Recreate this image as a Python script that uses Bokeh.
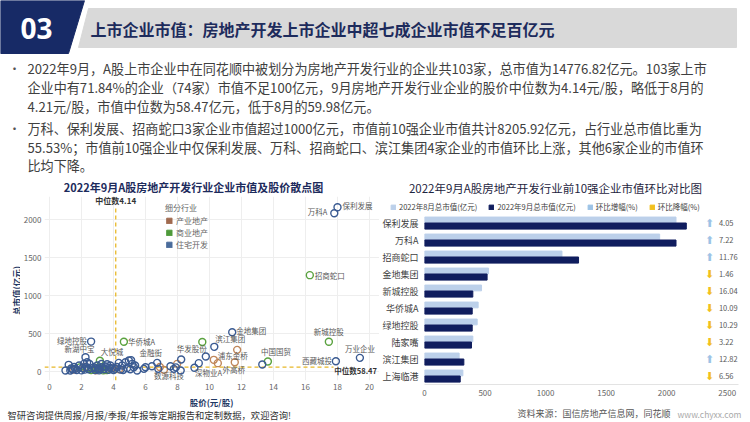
import math
import numpy as np
from bokeh.plotting import figure
from bokeh.layouts import column, row
from bokeh.models import (ColumnDataSource, Range1d, FactorRange, Label, Legend, LegendItem,
                          FixedTicker)
from bokeh.transform import dodge
from bokeh.core.properties import value
from bokeh.embed import file_html
from bokeh.resources import INLINE

FONT = "Noto Sans CJK SC"
NAN = float("nan")

# ------------------------------------------------------------------ texts
header_no = "03"
header_title = "上市企业市值：房地产开发上市企业中超七成企业市值不足百亿元"
bullet_lines = [
    "2022年9月，A股上市企业中在同花顺中被划分为房地产开发行业的企业共103家，总市值为14776.82亿元。103家上市",
    "企业中有71.84%的企业（74家）市值不足100亿元，9月房地产开发行业企业的股价中位数为4.14元/股，略低于8月的",
    "4.21元/股，市值中位数为58.47亿元，低于8月的59.98亿元。",
    "万科、保利发展、招商蛇口3家企业市值超过1000亿元，市值前10强企业市值共计8205.92亿元，占行业总市值比重为",
    "55.53%；市值前10强企业中仅保利发展、万科、招商蛇口、滨江集团4家企业的市值环比上涨，其他6家企业的市值环",
    "比均下降。",
]
scatter_title = "2022年9月A股房地产开发行业企业市值及股价散点图"
bar_title = "2022年9月A股房地产开发行业前10强企业市值环比对比图"
x_title = "股价(元/股)"
y_title = "总市值(亿元)"
footer_left = "智研咨询提供周报/月报/季报/年报等定期报告和定制数据，欢迎咨询!"
footer_src = "资料来源：国信房地产信息网，同花顺"
footer_site = "www.chyxx.com"

# ------------------------------------------------------------------ scatter data
seg_names = ["产业地产", "商业地产", "住宅开发"]

# 住宅开发
res_price = [18.0, 17.8, 11.42, 10.3, 9.77, 9.06, 2.6, 2.25, 4.96, 17.9, 19.4,
             1.0, 1.2, 1.3, 1.45, 1.6, 1.7, 1.85, 2.0, 2.05, 2.15, 2.3, 2.35, 2.45, 2.5,
             2.65, 2.77, 2.85, 2.98, 3.05, 3.1, 3.3, 3.4, 3.5, 3.6, 3.7, 3.8, 3.9, 4.1,
             4.2, 4.33, 4.45, 4.54, 4.75, 4.85, 5.05, 5.17, 5.27, 5.35, 5.48, 5.9, 6.0,
             6.4, 6.73, 6.8, 7.56, 7.77, 8.2, 8.23, 9.33, 13.3, 1.35, 2.2, 3.25, 4.0,
             5.1, 1.55, 2.9, 3.15, 3.75, 4.6, 7.9]
res_cap = [2162, 2083, 517, 325, 197, 49, 394, 188, 145, 136, 180,
           13, 88, 13, 30, 35, 20, 79, 15, 45, 101, 60, 123, 30, 100,
           45, 57, 20, 79, 40, 15, 57, 30, 66, 95, 22, 79, 40, 35,
           60, 114, 25, 79, 123, 45, 30, 101, 57, 80, 13, 35, 57,
           70, 114, 35, 70, 35, 13, 158, 110, 92, 40, 25, 100, 20,
           150, 60, 45, 30, 50, 20, 55]
res_label = ["保利发展", "万科A", "金地集团", "滨江集团", "华发股份", "深物业A", "绿地控股",
             "新湖中宝", "金融街", "西藏城投", "万业企业"] + [""] * 61

# 商业地产
com_price = [16.27, 17.46, 4.65, 3.15, 13.65, 9.55, 2.6, 2.8, 3.0, 3.2, 3.35, 1.9, 2.4, 3.6]
com_cap = [1268, 391, 391, 141, 132, 388, 20, 30, 25, 35, 15, 55, 40, 20]
com_label = ["招商蛇口", "新城控股", "华侨城A", "大悦城", "中国国贸"] + [""] * 9

# 产业地产
ind_price = [10.27, 11.58, 7.15, 10.52, 11.73, 7.98, 2.2, 3.5, 3.85, 4.35, 2.9, 1.5, 6.9]
ind_cap = [154, 123, 22, 110, 285, 101, 60, 20, 45, 30, 15, 25, 60]
ind_label = ["浦东金桥", "外高桥", "数源科技"] + [""] * 10

median_price = 4.14
median_cap = 58.47
x_ticks = [0, 2, 4, 6, 8, 10, 12, 14, 16, 18, 20]
y_ticks = [0, 500, 1000, 1500, 2000]

# ------------------------------------------------------------------ bar data
companies = ["保利发展", "万科A", "招商蛇口", "金地集团", "新城控股",
             "华侨城A", "绿地控股", "陆家嘴", "滨江集团", "上海临港"]
cap_aug = [2077, 1942, 1135, 529, 471, 443, 435, 399, 286, 317]
cap_sep = [2162, 2077, 1272, 517, 399, 394, 394, 388, 325, 295]
change_pct = [4.05, 7.22, 11.76, -1.46, -16.04, -10.09, -10.29, -3.22, 12.82, -6.56]
bar_ticks = [0, 500, 1000, 1500, 2000, 2500]
bar_legend = ["2022年8月总市值(亿元)", "2022年9月总市值(亿元)", "环比增幅(%)", "环比降幅(%)"]

# ------------------------------------------------------------------ styles
NAVY = "#172a66"
TITLE_NAVY = "#1d2b5c"
AXIS_NAVY = "#1f3864"
GREY_TXT = "#404040"
C_RES, C_COM, C_IND = "#3b5b92", "#5aa23f", "#c0875a"
L_RES, L_COM, L_IND = "#4a6c9b", "#4e9a3a", "#a06a4f"
C_AUG, C_SEP = "#bcd0ea", "#101d5e"
C_UP, C_DOWN = "#9dc3e6", "#f2c01e"
GOLD = "#e8b828"

# label offsets for named points: (dx px, dy px (down), align)
label_style = {
    "保利发展": (5, -2, "left"), "万科A": (-7, -2, "right"), "招商蛇口": (5, 0, "left"),
    "新城控股": (0, -10, "center"), "万业企业": (0, -9, "center"), "西藏城投": (-4, -1, "right"),
    "中国国贸": (8, -10, "center"), "金地集团": (4, -2, "left"), "滨江集团": (16, -8, "center"),
    "华发股份": (-14, -8, "center"), "浦东金桥": (19, -4, "center"), "外高桥": (-1, 7, "center"),
    "深物业A": (14, 5, "center"), "数源科技": (5, 6, "center"), "金融街": (22, -8, "center"),
    "大悦城": (12, -9, "center"), "华侨城A": (4, 0, "left"), "绿地控股": (-4, -1, "right"),
    "新湖中宝": (-6, -9, "center"),
}


def no_align(f):
    if "frame_align" in f.properties():
        f.frame_align = False
    return f


def text_fig(w, h, x0, x1, y0, y1):
    f = figure(width=w, height=h, x_range=Range1d(x0, x1), y_range=Range1d(y1, y0),
               output_backend="svg", toolbar_location=None, min_border=0,
               x_axis_location=None, y_axis_location=None)
    f.grid.visible = False
    f.outline_line_color = None
    return no_align(f)


# ================================================================== top (header + bullets + chart titles)
top = text_fig(750, 196, 0, 750, 0, 196)
top.patch([0, 84, 68, 0], [0, 0, 53, 53], color=NAVY)
top.patch([88, 736, 736, 78], [8, 8, 47, 47], color="#d9d9d9")
top.text(x=[36], y=[28], text=[header_no], text_font=value("Open Sans"), text_font_style="bold",
         text_font_size="28px", text_color="white", text_align="center", text_baseline="middle")
top.text(x=[90], y=[28], text=[header_title], text_font=value(FONT), text_font_style="bold",
         text_font_size="16px", text_color=TITLE_NAVY, text_align="left", text_baseline="middle")
line_y = [68, 87, 106, 128, 147, 165]
top.text(x=[27] * 6, y=line_y, text=bullet_lines, text_font=value(FONT), text_font_size="13.1px",
         text_color=GREY_TXT, text_baseline="middle")
top.text(x=[14, 14], y=[68, 128], text=["•", "•"], text_font=value(FONT), text_font_size="12px",
         text_color="#555555", text_align="center", text_baseline="middle")
top.text(x=[193], y=[186], text=[scatter_title], text_font=value(FONT), text_font_style="bold",
         text_font_size="11px", text_color=TITLE_NAVY, text_align="center", text_baseline="middle")
top.text(x=[555], y=[187], text=[bar_title], text_font=value(FONT),
         text_font_size="11.5px", text_color="#1e2540", text_align="center", text_baseline="middle")

# ================================================================== y title strip (left of scatter)
yl = figure(width=20, height=199, x_range=Range1d(0, 20), y_range=Range1d(0, 199),
            output_backend="svg", toolbar_location=None, min_border=0,
            x_axis_location=None, y_axis_location=None)
yl.grid.visible = False
yl.outline_line_color = None
no_align(yl)
yl.text(x=[15], y=[105], text=[y_title], angle=math.pi / 2, text_font=value(FONT),
        text_font_style="bold", text_font_size="8.5px", text_color=AXIS_NAVY,
        text_align="center", text_baseline="middle")

# ================================================================== scatter
p1 = no_align(figure(width=359, height=199, x_range=Range1d(-0.3125, 20.625),
                     y_range=Range1d(-118, 2303), output_backend="svg", toolbar_location=None,
                     min_border_left=24, min_border_right=0, min_border_top=0,
                     min_border_bottom=15))
p1.outline_line_color = None
p1.xaxis.ticker = FixedTicker(ticks=x_ticks)
p1.yaxis.ticker = FixedTicker(ticks=y_ticks)
for ax in (p1.xaxis[0], p1.yaxis[0]):
    ax.axis_line_color = None
    ax.major_tick_line_color = None
    ax.minor_tick_line_color = None
    ax.major_tick_out = 0
    ax.major_tick_in = 0
    ax.major_label_text_font = FONT
    ax.major_label_text_font_size = "8px"
    ax.major_label_text_color = "#666666"
p1.xaxis.major_label_standoff = 3
p1.yaxis.major_label_standoff = 3
p1.xgrid.grid_line_color = "#eeeeee"
p1.ygrid.grid_line_color = "#eeeeee"

p1.segment(x0=[median_price], y0=[-118], x1=[median_price], y1=[2184],
           line_color=GOLD, line_width=1.3, line_dash="4 3")
p1.segment(x0=[-0.3125], y0=[median_cap], x1=[17.75], y1=[median_cap],
           line_color=GOLD, line_width=1.3, line_dash="4 3")

groups = [(ind_price, ind_cap, ind_label, C_IND), (com_price, com_cap, com_label, C_COM),
          (res_price, res_cap, res_label, C_RES)]
for px, py, lab, col in groups:
    src = ColumnDataSource(dict(x=px, y=py))
    p1.scatter("x", "y", source=src, size=7, marker="circle", fill_color=None,
               line_color=col, line_width=1.4)
    named = [(a, b, n) for a, b, n in zip(px, py, lab) if n]
    for align in ("left", "right", "center"):
        sel = [t for t in named if label_style[t[2]][2] == align]
        if not sel:
            continue
        lsrc = ColumnDataSource(dict(
            x=[t[0] for t in sel], y=[t[1] for t in sel], text=[t[2] for t in sel],
            dx=[label_style[t[2]][0] for t in sel], dy=[label_style[t[2]][1] for t in sel]))
        p1.text("x", "y", text="text", source=lsrc, x_offset="dx", y_offset="dy",
                text_font=value(FONT), text_font_size="7.5px", text_color="#595959",
                text_align=align, text_baseline="middle")

p1.add_layout(Label(x=median_price, y=2250, text=f"中位数{median_price}", text_font=FONT,
                    text_font_size="8px", text_font_style="bold", text_color="#333333",
                    text_align="center", text_baseline="middle"))
p1.add_layout(Label(x=17.8, y=median_cap, y_offset=-3, text=f"中位数{median_cap}", text_font=FONT,
                    text_font_size="7.5px", text_font_style="bold", text_color="#333333",
                    text_align="left", text_baseline="middle"))

leg_items = []
for name, col in zip(seg_names, [L_IND, L_COM, L_RES]):
    r = p1.vbar(x=np.array([NAN]), top=np.array([NAN]), width=1, color=col)
    leg_items.append(LegendItem(label=name, renderers=[r]))
leg1 = Legend(items=leg_items, title="细分行业", location="top_center", orientation="vertical",
              glyph_width=7, glyph_height=7, label_height=11, label_width=82, label_standoff=4,
              spacing=1, padding=0, margin=6, background_fill_alpha=0, border_line_alpha=0,
              label_text_font=FONT, label_text_font_size="8px", label_text_color="#666666",
              title_text_font=FONT, title_text_font_size="8px", title_text_color="#666666",
              title_text_font_style="normal", title_standoff=2)
p1.add_layout(leg1)

bl = text_fig(379, 27, 0, 379, 395, 422)
bl.text(x=[211], y=[401], text=[x_title], text_font=value(FONT), text_font_style="bold",
        text_font_size="8.5px", text_color=AXIS_NAVY, text_align="center", text_baseline="middle")
bl.text(x=[7], y=[414], text=[footer_left], text_font=value(FONT), text_font_size="9.3px",
        text_color="#333333", text_align="left", text_baseline="middle")

# ================================================================== bar legend strip
lg = no_align(figure(width=371, height=18, x_range=Range1d(0, 1), y_range=Range1d(0, 1),
                     output_backend="svg", toolbar_location=None, min_border=0, min_border_left=6,
                     x_axis_location=None, y_axis_location=None))
lg.grid.visible = False
lg.outline_line_color = None
lg_r = [lg.vbar(x=np.array([NAN]), top=np.array([NAN]), width=1, color=c)
        for c in (C_AUG, C_SEP, C_UP, C_DOWN)]
leg2 = Legend(items=[LegendItem(label=t, renderers=[r]) for t, r in zip(bar_legend, lg_r)],
              location="top_left", orientation="horizontal",
              glyph_width=6, glyph_height=6, label_height=10, label_standoff=3, spacing=11,
              padding=0, margin=5, background_fill_alpha=0, border_line_alpha=0,
              label_text_font=FONT, label_text_font_size="7.5px", label_text_color="#404040")
lg.add_layout(leg2)

# ================================================================== bars
factors = list(reversed(companies))
p2 = no_align(figure(width=371, height=191, x_range=Range1d(0, 2593),
                     y_range=FactorRange(factors=factors), output_backend="svg",
                     toolbar_location=None, min_border_left=42, min_border_right=12,
                     min_border_top=0, min_border_bottom=21))
p2.outline_line_color = None
p2.grid.visible = False
bsrc = ColumnDataSource(dict(
    cat=companies, aug=cap_aug, sep=cap_sep,
    pct=[f"{abs(v):.2f}" for v in change_pct],
    arrow=["⬆" if v > 0 else "⬇" for v in change_pct],
    acol=[C_UP if v > 0 else C_DOWN for v in change_pct],
    ax=[2355] * len(companies), tx=[2431] * len(companies)))
p2.hbar(y=dodge("cat", 0.18, range=p2.y_range), right="aug", left=0, height=0.34,
        source=bsrc, color=C_AUG)
p2.hbar(y=dodge("cat", -0.18, range=p2.y_range), right="sep", left=0, height=0.36,
        source=bsrc, color=C_SEP)
p2.text(x="ax", y="cat", text="arrow", source=bsrc, text_color="acol", text_font=value("DejaVu Sans"),
        text_font_size="11px", text_align="center", text_baseline="middle")
p2.text(x="tx", y="cat", text="pct", source=bsrc, text_color="#595959", text_font=value(FONT),
        text_font_size="7.5px", text_align="left", text_baseline="middle")
p2.xaxis.ticker = FixedTicker(ticks=bar_ticks)
p2.xaxis.axis_line_color = "#e3e3e3"
p2.xaxis.major_tick_line_color = None
p2.xaxis.minor_tick_line_color = None
p2.xaxis.major_tick_out = 0
p2.xaxis.major_tick_in = 0
p2.xaxis.major_label_text_font = FONT
p2.xaxis.major_label_text_font_size = "8px"
p2.xaxis.major_label_text_color = "#666666"
p2.xaxis.major_label_standoff = 5
p2.yaxis.axis_line_color = None
p2.yaxis.major_tick_line_color = None
p2.yaxis.minor_tick_line_color = None
p2.yaxis.major_tick_out = 0
p2.yaxis.major_tick_in = 0
p2.yaxis.major_label_text_font = FONT
p2.yaxis.major_label_text_font_size = "9px"
p2.yaxis.major_label_text_color = "#404040"
p2.yaxis.major_label_standoff = 6

br = text_fig(371, 17, 379, 750, 405, 422)
br.text(x=[670], y=[413], text=[footer_src], text_font=value(FONT), text_font_size="9px",
        text_color="#555555", text_align="right", text_baseline="middle")
br.text(x=[677], y=[413], text=[footer_site], text_font=value(FONT), text_font_size="8.5px",
        text_color="#aaaaaa", text_align="left", text_baseline="middle")

layout = column(top,
                row(column(row(yl, p1, spacing=0), bl, spacing=0),
                    column(lg, p2, br, spacing=0), spacing=0),
                spacing=0)
open("out.html", "w").write(file_html(layout, INLINE))
